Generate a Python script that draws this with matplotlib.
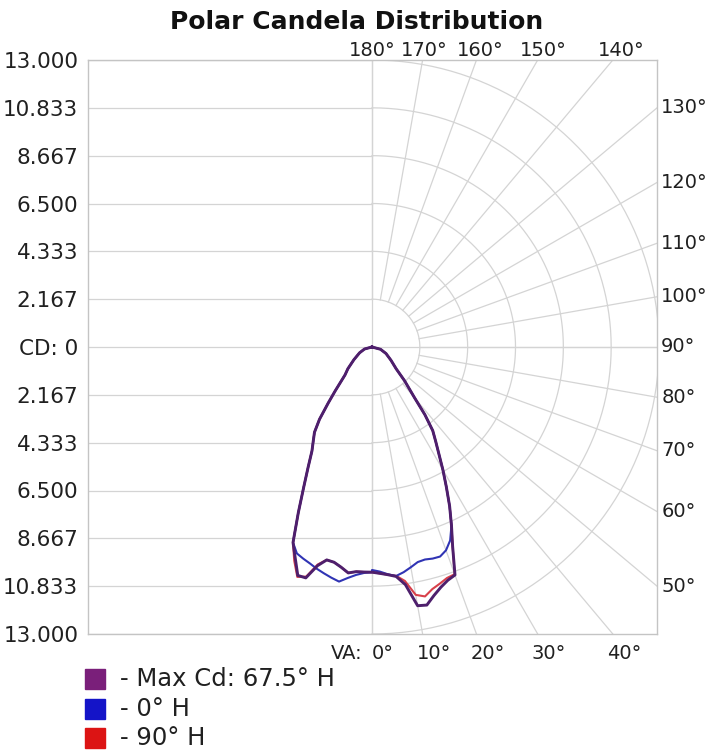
import numpy as np
import matplotlib.pyplot as plt
from matplotlib.patches import Rectangle

# vertical angle from nadir (deg) and candela
va_deg = [0, 2, 4, 6, 8, 10, 12, 14, 16, 18, 20, 22, 24, 26, 28, 30, 32, 34, 36, 38, 40, 44, 48, 55, 65, 75, 90]

max_right = [10200, 10260, 10340, 10450, 10870, 11900, 11950, 11600, 11320, 11110, 10990, 9750, 8850,
             8020, 7170, 6420, 5720, 5160, 4680, 3890, 2990, 2120, 1470, 1050, 700, 400, 0]
max_left = [10200, 10200, 10200, 10290, 10070, 9900, 9860, 10210, 10880, 10880, 10170, 9550, 8200,
            7050, 6160, 5440, 5020, 4660, 4045, 3225, 2590, 1760, 1470, 1000, 620, 350, 0]

h0_right = [10100, 10180, 10320, 10430, 10300, 10130, 9960, 9920, 9970, 9980, 9800, 9450, 8850,
            8020, 7170, 6420, 5720, 5160, 4680, 3890, 2990, 2120, 1470, 1050, 700, 400, 0]
h0_left = [10200, 10240, 10350, 10520, 10730, 10610, 10480, 10350, 10200, 10080, 9950, 9550, 8200,
           7050, 6160, 5440, 5020, 4660, 4045, 3225, 2590, 1760, 1470, 1000, 620, 350, 0]

h90_right = [10200, 10260, 10340, 10420, 10700, 11400, 11550, 11300, 11150, 11000, 10950, 9750, 8850,
             8020, 7170, 6420, 5720, 5160, 4680, 3890, 2990, 2120, 1470, 1050, 700, 400, 0]
h90_left = [10200, 10200, 10200, 10290, 10070, 9900, 9860, 10150, 10820, 10950, 10300, 9550, 8200,
            7050, 6160, 5440, 5020, 4660, 4045, 3225, 2590, 1760, 1470, 1000, 620, 350, 0]

cd_ticks = [13000, 10833, 8667, 6500, 4333, 2167, 0, -2167, -4333, -6500, -8667, -10833, -13000]
cd_labels = ['13.000', '10.833', '8.667', '6.500', '4.333', '2.167', 'CD: 0',
             '2.167', '4.333', '6.500', '8.667', '10.833', '13.000']
ring_cd = [2167, 4333, 6500, 8667, 10833, 13000]
spoke_deg = list(range(0, 190, 10))

series = [
    ('- 90° H', '#d8404a', h90_left, h90_right, 1.5),
    ('- 0° H', '#3034b4', h0_left, h0_right, 1.5),
    ('- Max Cd: 67.5° H', '#4e1f6c', max_left, max_right, 2.1),
]
legend_colors = {'- Max Cd: 67.5° H': '#7a1f7a', '- 0° H': '#1414c8', '- 90° H': '#dc1414'}

grid_c = '#d4d4d4'
text_c = '#202020'

fig = plt.figure(figsize=(7.11, 7.56), dpi=100)
ax = fig.add_axes([88 / 711, 1 - 634 / 756, 569 / 711, 574 / 756])
xlo, xhi = -12864, 12909
ylo, yhi = -13000, 13000
ax.set_xlim(xlo, xhi)
ax.set_ylim(ylo, yhi)

for s in ax.spines.values():
    s.set_color('#c4c4c4')
    s.set_linewidth(1)

# left half: plain horizontal lines
for v in cd_ticks:
    ax.plot([xlo, 0], [v, v], color=grid_c, lw=0.9, zorder=1)
ax.plot([0, xhi], [0, 0], color=grid_c, lw=0.9, zorder=1)
ax.plot([0, 0], [ylo, yhi], color=grid_c, lw=0.9, zorder=1)

# right half: rings and spokes
t = np.radians(np.linspace(0, 180, 181))
for r in ring_cd:
    ax.plot(r * np.sin(t), -r * np.cos(t), color=grid_c, lw=0.9, zorder=1)
for a in spoke_deg:
    ar = np.radians(a)
    ax.plot([ring_cd[0] * np.sin(ar), 30000 * np.sin(ar)],
            [-ring_cd[0] * np.cos(ar), -30000 * np.cos(ar)], color=grid_c, lw=0.9, zorder=1)

ax.set_xticks([])
ax.set_yticks(cd_ticks)
ax.set_yticklabels(cd_labels, fontsize=15.5, color=text_c)
ax.tick_params(axis='y', length=0, pad=7)

# candela curves
for name, col, left, right, lw in series:
    a = np.radians(va_deg)
    xl = -np.array(left) * np.sin(a)
    yl = -np.array(left) * np.cos(a)
    xr = np.array(right) * np.sin(a)
    yr = -np.array(right) * np.cos(a)
    ax.plot(np.concatenate([xl[::-1], xr]), np.concatenate([yl[::-1], yr]),
            color=col, lw=lw, solid_joinstyle='round', zorder=3)

# angle labels around the frame
for a in spoke_deg:
    ar = np.radians(a)
    if a <= 40:
        x = -ylo * np.tan(ar)
        ax.annotate(f'{a}°', (x, ylo), xytext=(8, -7), textcoords='offset points',
                    ha='center', va='top', fontsize=14, color=text_c, annotation_clip=False)
    elif a <= 130:
        y = -xhi / np.tan(ar) if a != 90 else 0
        ax.annotate(f'{a}°', (xhi, y), xytext=(3, 0), textcoords='offset points',
                    ha='left', va='center', fontsize=14, color=text_c, annotation_clip=False)
    else:
        ylab = yhi + 430
        x = -ylab * np.tan(ar)
        ax.annotate(f'{a}°', (x, ylab), xytext=(0, 0), textcoords='offset points',
                    ha='center', va='center', fontsize=14, color=text_c, annotation_clip=False)
ax.annotate('VA:', (0, ylo), xytext=(-7, -7), textcoords='offset points',
            ha='right', va='top', fontsize=14, color=text_c, annotation_clip=False)

fig.text(357 / 711, 1 - 22 / 756, 'Polar Candela Distribution', ha='center', va='center',
         fontsize=18, fontweight='bold', color='#111111')

# legend
for i, (name, col, left, right, lw) in enumerate(series[::-1]):
    yc = 679 + i * 29.5
    fig.patches.append(Rectangle((85 / 711, 1 - (yc + 10) / 756), 20 / 711, 20 / 756,
                                 transform=fig.transFigure, color=legend_colors[name]))
    fig.text(120 / 711, 1 - yc / 756, name, ha='left', va='center', fontsize=17.5, color=text_c)

plt.savefig('out.png', dpi=100)
